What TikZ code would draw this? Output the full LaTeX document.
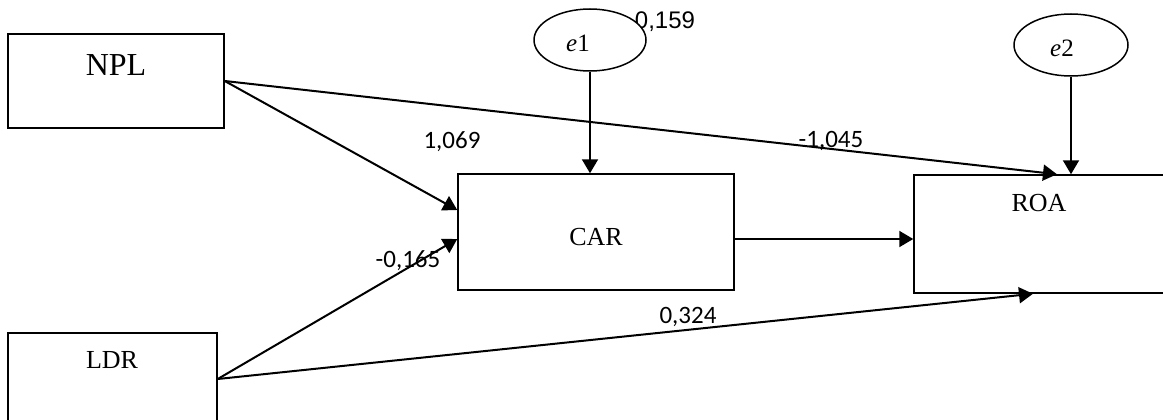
\documentclass[tikz,border=0pt]{standalone}
\usepackage{fontspec}
\setmainfont{Liberation Serif}
\newfontfamily\coeffont{Carlito}
\newfontfamily\arialfont{Liberation Sans}
\usetikzlibrary{arrows.meta,shapes.geometric}
\tikzset{
	varbox/.style={draw,line width=1.5pt,rectangle,inner sep=0pt},
	errnode/.style={draw,line width=1.5pt,ellipse,fill=white,inner sep=0pt},
	pathline/.style={line width=2pt,-{Triangle[length=14pt,width=16pt]}}
}
\begin{document}
\begin{tikzpicture}[x=1pt,y=-1pt]
			\newcommand{\myfontbig}[1]{
				\fontsize{32}{36}\selectfont{#1}
			}\newcommand{\myfontbox}[1]{
				\fontsize{26}{30}\selectfont{#1}
			}\newcommand{\myfontcoef}[1]{
				\coeffont\fontsize{25}{30}\selectfont{#1}
			}\newcommand{\myfonterr}[1]{
				\fontsize{25}{30}\selectfont{\itshape e}#1
			}%Frame of the picture
			\useasboundingbox (0,0) rectangle (1163,420);
			%Centres of the boxes
			\coordinate (centerNPL) at (116,81);
			\coordinate (centerLDR) at (112.5,379);
			\coordinate (centerCAR) at (596,232);
			\coordinate (centerROA) at (1042,234);
			%Boxes of the variables
			\node [varbox,minimum width=216pt,minimum height=94pt] (npl) at (centerNPL) {};
			\node [varbox,minimum width=209pt,minimum height=92pt] (ldr) at (centerLDR) {};
			\node [varbox,minimum width=276pt,minimum height=116pt] (car) at (centerCAR) {};
			\node [varbox,minimum width=256pt,minimum height=118pt] (roa) at (centerROA) {};
			%Names in the boxes
			\node [] (npltext) at (116,65) {\myfontbig{NPL}};
			\node [] (ldrtext) at (112,360) {\myfontbox{LDR}};
			\node [] (cartext) at (596,237) {\myfontbox{CAR}};
			\node [] (roatext) at (1039,203) {\myfontbox{ROA}};
			%Coefficients
			\node [] (c159) at (665,22) {\arialfont\fontsize{24}{28}\selectfont 0,159};
			\node [] (c1069) at (452,142) {\myfontcoef{1,069}};
			\node [] (c1045) at (831,141) {\myfontcoef{-1,045}};
			\node [] (c165) at (408,261) {\myfontcoef{-0,165}};
			\node [] (c324) at (688,317) {\myfontcoef{0,324}};
			%Error terms
			\node [errnode,minimum width=112pt,minimum height=62pt] (e1) at (590,40) {};
			\node [errnode,minimum width=114pt,minimum height=62pt] (e2) at (1071,45) {};
			\node [] (e1text) at (578,43) {\myfonterr{1}};
			\node [] (e2text) at (1062,48) {\myfonterr{2}};
			%Paths
			\draw [pathline] (e1.south) -- (e1.south |- car.north);
			\draw [pathline] (e2.south) -- (e2.south |- roa.north);
			\draw [pathline] (npl.east) -- ([yshift=22pt]car.west);
			\draw [pathline] (npl.east) -- ([xshift=15pt]roa.north);
			\draw [pathline] (ldr.east) -- ([yshift=-7pt]car.west);
			\draw [pathline] (ldr.east) -- ([xshift=-9pt]roa.south);
			\draw [pathline] ([yshift=-7pt]car.east) -- ([yshift=-7pt]car.east -| roa.west);
\end{tikzpicture}
\end{document}
